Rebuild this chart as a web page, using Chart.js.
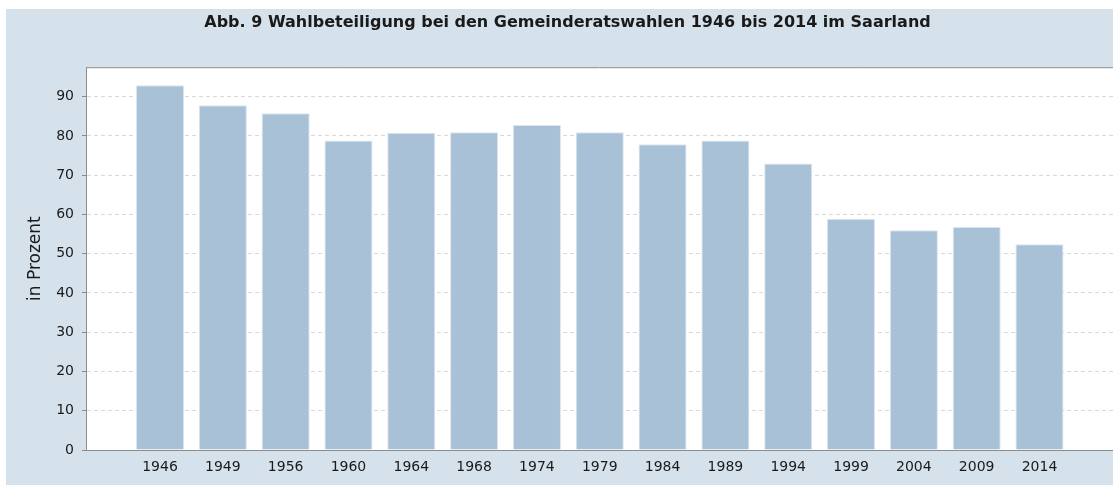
<!DOCTYPE html>
<html lang="de">
<head>
<meta charset="utf-8">
<title>Wahlbeteiligung Gemeinderatswahlen Saarland</title>
<script src="https://cdn.jsdelivr.net/npm/chart.js@4/dist/chart.umd.min.js"></script>
<style>
  html, body { margin: 0; padding: 0; background: #ffffff; }
  #wrap { width: 1113px; height: 485px; }
</style>
</head>
<body>
<div id="wrap"><canvas id="chart" width="1113" height="485"></canvas></div>
<script>
'use strict';

// ─── Data ─────────────────────────────────────────────────────────────────────

const years   = ['1946', '1949', '1956', '1960', '1964', '1968', '1974', '1979',
                 '1984', '1989', '1994', '1999', '2004', '2009', '2014'];
const turnout = [92.9, 87.8, 85.8, 78.8, 80.8, 80.9, 82.8, 80.9,
                 77.9, 78.8, 73.0, 58.9, 56.0, 56.8, 52.4];
const yTicks  = [0, 10, 20, 30, 40, 50, 60, 70, 80, 90];

const titleText = 'Abb. 9 Wahlbeteiligung bei den Gemeinderatswahlen 1946 bis 2014 im Saarland';
const yTitle    = 'in Prozent';

// ─── Colours ──────────────────────────────────────────────────────────────────

const BG_OUTER = '#d6e2eb';
const BAR_FILL = '#a9c1d6';
const BAR_EDGE = '#dbe5ee';
const GRID     = '#d9d9d9';
const AXIS     = '#8c8c8c';
const TEXT     = '#1a1a1a';

// ─── Background plugin ────────────────────────────────────────────────────────

const backdrop = {
  id: 'backdrop',
  beforeDraw(chart) {
    const { ctx, width, height, chartArea: a } = chart;
    ctx.save();
    ctx.fillStyle = '#ffffff';
    ctx.fillRect(0, 0, width, height);
    ctx.fillStyle = BG_OUTER;
    ctx.fillRect(6, 9, width - 6, height - 9);
    ctx.fillStyle = '#ffffff';
    ctx.fillRect(a.left, a.top, a.right - a.left, a.bottom - a.top);
    // top frame line
    ctx.strokeStyle = AXIS;
    ctx.lineWidth = 1;
    ctx.beginPath();
    ctx.moveTo(a.left, a.top + 0.5);
    ctx.lineTo(a.right, a.top + 0.5);
    ctx.stroke();
    ctx.restore();
  },
};

// ─── Chart ────────────────────────────────────────────────────────────────────

const points = turnout.map((v, i) => ({ x: i, y: v }));

new Chart(document.getElementById('chart'), {
  type: 'bar',
  data: {
    datasets: [{
      label: 'Wahlbeteiligung',
      data: points,
      backgroundColor: BAR_FILL,
      borderColor: BAR_EDGE,
      borderWidth: 1,
      barPercentage: 0.765,
      categoryPercentage: 1,
    }],
  },
  options: {
    responsive: false,
    animation: false,
    // left padding shifts the title centre to match the original
    layout: { padding: { left: 22, right: 0, top: 0, bottom: 0 } },
    scales: {
      x: {
        type: 'linear',
        offset: false,
        min: -1.178,
        max: 15.17,
        afterBuildTicks: s => { s.ticks = years.map((_, i) => ({ value: i })); },
        afterFit: s => { s.height = 35; },
        ticks: {
          callback: v => years[v],
          autoSkip: false,
          maxRotation: 0,
          padding: 9,
          color: TEXT,
          font: { family: 'DejaVu Sans', size: 14 },
        },
        grid: { display: false, drawTicks: false },
        border: { display: true, color: AXIS, width: 1 },
      },
      y: {
        min: 0,
        max: 97.5,
        afterBuildTicks: s => { s.ticks = yTicks.map(v => ({ value: v })); },
        afterFit: s => { s.width = 64; },
        ticks: {
          padding: 8,
          color: TEXT,
          font: { family: 'DejaVu Sans', size: 14 },
        },
        grid: {
          color: GRID,
          tickLength: 4,
          tickColor: AXIS,
          tickBorderDash: [],
        },
        border: { display: true, color: AXIS, width: 1, dash: [4, 3] },
        title: {
          display: true,
          text: yTitle,
          color: TEXT,
          font: { family: 'DejaVu Sans', size: 17 },
          padding: { top: 3, bottom: 0 },
        },
      },
    },
    plugins: {
      legend: { display: false },
      tooltip: { enabled: false },
      title: {
        display: true,
        text: titleText,
        color: TEXT,
        font: { family: 'DejaVu Sans', size: 16, weight: 'bold', lineHeight: 1.2 },
        padding: { top: 13, bottom: 35 },
      },
    },
  },
  plugins: [backdrop],
});
</script>
</body>
</html>
